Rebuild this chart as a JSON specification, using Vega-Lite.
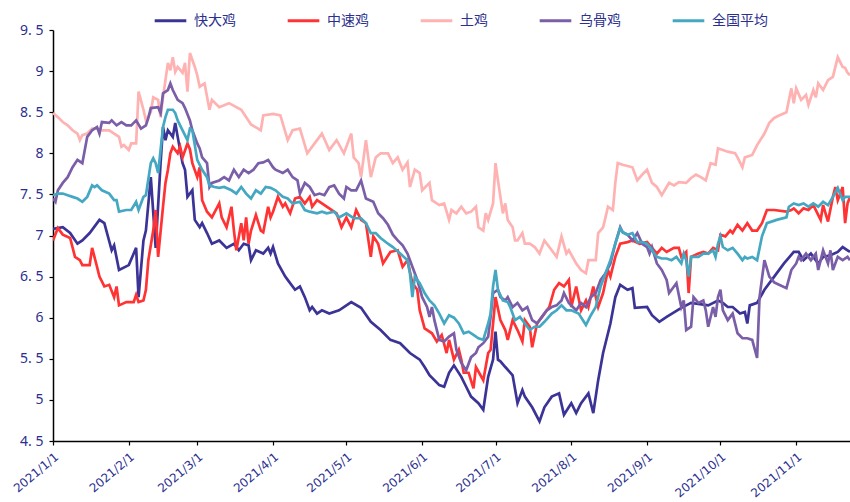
{
"$schema": "https://vega.github.io/schema/vega-lite/v6.json",
"width": 797, "height": 411,
"autosize": {"type": "none"},
"padding": {"left": 53, "top": 30, "right": 0, "bottom": 61},
"background": "white",
"config": {"view": {"stroke": null}, "font": "Noto Sans"},
"datasets": {
"k": [
{"d":"2021/01/01","v":7.08},{"d":"2021/01/05","v":7.10},{"d":"2021/01/08","v":7.03},{"d":"2021/01/11","v":6.90},{"d":"2021/01/13","v":6.94},{"d":"2021/01/16","v":7.03},{"d":"2021/01/20","v":7.19},{"d":"2021/01/22","v":7.15},{"d":"2021/01/25","v":6.82},{"d":"2021/01/26","v":6.88},{"d":"2021/01/28","v":6.58},{"d":"2021/02/01","v":6.64},{"d":"2021/02/04","v":6.85},{"d":"2021/02/05","v":6.25},{"d":"2021/02/07","v":6.94},{"d":"2021/02/08","v":7.06},{"d":"2021/02/10","v":7.71},{"d":"2021/02/12","v":6.85},{"d":"2021/02/14","v":7.88},{"d":"2021/02/15","v":8.32},{"d":"2021/02/16","v":8.16},{"d":"2021/02/17","v":8.28},{"d":"2021/02/19","v":8.20},{"d":"2021/02/20","v":8.37},{"d":"2021/02/21","v":8.20},{"d":"2021/02/23","v":7.88},{"d":"2021/02/24","v":7.80},{"d":"2021/02/25","v":7.47},{"d":"2021/02/27","v":7.55},{"d":"2021/02/28","v":7.19},{"d":"2021/03/02","v":7.10},{"d":"2021/03/03","v":7.15},{"d":"2021/03/05","v":7.03},{"d":"2021/03/07","v":6.90},{"d":"2021/03/10","v":6.94},{"d":"2021/03/13","v":6.85},{"d":"2021/03/16","v":6.90},{"d":"2021/03/18","v":6.82},{"d":"2021/03/20","v":6.90},{"d":"2021/03/22","v":6.88},{"d":"2021/03/23","v":6.70},{"d":"2021/03/25","v":6.82},{"d":"2021/03/28","v":6.78},{"d":"2021/03/30","v":6.85},{"d":"2021/03/31","v":6.78},{"d":"2021/04/01","v":6.86},{"d":"2021/04/03","v":6.66},{"d":"2021/04/06","v":6.50},{"d":"2021/04/07","v":6.46},{"d":"2021/04/10","v":6.34},{"d":"2021/04/12","v":6.38},{"d":"2021/04/14","v":6.25},{"d":"2021/04/16","v":6.09},{"d":"2021/04/17","v":6.13},{"d":"2021/04/19","v":6.05},{"d":"2021/04/21","v":6.09},{"d":"2021/04/24","v":6.05},{"d":"2021/04/28","v":6.09},{"d":"2021/05/03","v":6.19},{"d":"2021/05/07","v":6.12},{"d":"2021/05/11","v":5.95},{"d":"2021/05/15","v":5.85},{"d":"2021/05/19","v":5.73},{"d":"2021/05/23","v":5.69},{"d":"2021/05/27","v":5.57},{"d":"2021/05/31","v":5.49},{"d":"2021/06/02","v":5.40},{"d":"2021/06/04","v":5.30},{"d":"2021/06/08","v":5.18},{"d":"2021/06/10","v":5.16},{"d":"2021/06/12","v":5.33},{"d":"2021/06/14","v":5.42},{"d":"2021/06/17","v":5.28},{"d":"2021/06/19","v":5.16},{"d":"2021/06/21","v":5.04},{"d":"2021/06/24","v":4.96},{"d":"2021/06/26","v":4.88},{"d":"2021/06/28","v":5.28},{"d":"2021/06/30","v":5.49},{"d":"2021/07/01","v":5.83},{"d":"2021/07/02","v":5.49},{"d":"2021/07/03","v":5.47},{"d":"2021/07/05","v":5.40},{"d":"2021/07/08","v":5.30},{"d":"2021/07/10","v":4.96},{"d":"2021/07/12","v":5.12},{"d":"2021/07/13","v":5.04},{"d":"2021/07/16","v":4.91},{"d":"2021/07/19","v":4.74},{"d":"2021/07/21","v":4.91},{"d":"2021/07/24","v":5.04},{"d":"2021/07/27","v":5.08},{"d":"2021/07/29","v":4.82},{"d":"2021/08/01","v":4.96},{"d":"2021/08/03","v":4.84},{"d":"2021/08/05","v":4.96},{"d":"2021/08/08","v":5.08},{"d":"2021/08/10","v":4.84},{"d":"2021/08/12","v":5.24},{"d":"2021/08/14","v":5.57},{"d":"2021/08/17","v":5.93},{"d":"2021/08/19","v":6.25},{"d":"2021/08/21","v":6.40},{"d":"2021/08/24","v":6.34},{"d":"2021/08/26","v":6.36},{"d":"2021/08/27","v":6.12},{"d":"2021/09/01","v":6.13},{"d":"2021/09/03","v":6.03},{"d":"2021/09/06","v":5.95},{"d":"2021/09/09","v":6.01},{"d":"2021/09/15","v":6.12},{"d":"2021/09/19","v":6.18},{"d":"2021/09/26","v":6.15},{"d":"2021/09/30","v":6.21},{"d":"2021/10/02","v":6.18},{"d":"2021/10/04","v":6.13},{"d":"2021/10/06","v":6.13},{"d":"2021/10/09","v":6.05},{"d":"2021/10/11","v":6.07},{"d":"2021/10/12","v":5.93},{"d":"2021/10/13","v":6.15},{"d":"2021/10/16","v":6.18},{"d":"2021/10/19","v":6.34},{"d":"2021/10/23","v":6.50},{"d":"2021/10/27","v":6.66},{"d":"2021/10/31","v":6.80},{"d":"2021/11/02","v":6.80},{"d":"2021/11/04","v":6.70},{"d":"2021/11/07","v":6.78},{"d":"2021/11/10","v":6.66},{"d":"2021/11/12","v":6.74},{"d":"2021/11/15","v":6.76},{"d":"2021/11/18","v":6.80},{"d":"2021/11/20","v":6.86},{"d":"2021/11/22","v":6.82},{"d":"2021/11/23","v":6.80}
],
"z": [
{"d":"2021/01/01","v":6.94},{"d":"2021/01/03","v":7.09},{"d":"2021/01/05","v":7.01},{"d":"2021/01/08","v":6.97},{"d":"2021/01/10","v":6.74},{"d":"2021/01/12","v":6.70},{"d":"2021/01/13","v":6.64},{"d":"2021/01/16","v":6.64},{"d":"2021/01/17","v":6.85},{"d":"2021/01/19","v":6.62},{"d":"2021/01/20","v":6.50},{"d":"2021/01/22","v":6.38},{"d":"2021/01/24","v":6.40},{"d":"2021/01/26","v":6.25},{"d":"2021/01/27","v":6.38},{"d":"2021/01/28","v":6.15},{"d":"2021/01/31","v":6.19},{"d":"2021/02/03","v":6.19},{"d":"2021/02/04","v":6.28},{"d":"2021/02/05","v":6.19},{"d":"2021/02/07","v":6.21},{"d":"2021/02/08","v":6.34},{"d":"2021/02/09","v":6.70},{"d":"2021/02/11","v":7.06},{"d":"2021/02/12","v":7.31},{"d":"2021/02/13","v":6.74},{"d":"2021/02/15","v":7.35},{"d":"2021/02/16","v":7.64},{"d":"2021/02/17","v":7.80},{"d":"2021/02/18","v":8.00},{"d":"2021/02/19","v":8.08},{"d":"2021/02/21","v":8.00},{"d":"2021/02/22","v":8.08},{"d":"2021/02/23","v":7.95},{"d":"2021/02/25","v":8.12},{"d":"2021/02/26","v":8.05},{"d":"2021/02/27","v":7.88},{"d":"2021/03/01","v":7.71},{"d":"2021/03/02","v":7.83},{"d":"2021/03/03","v":7.43},{"d":"2021/03/05","v":7.29},{"d":"2021/03/07","v":7.22},{"d":"2021/03/10","v":7.39},{"d":"2021/03/11","v":7.22},{"d":"2021/03/13","v":7.10},{"d":"2021/03/15","v":7.35},{"d":"2021/03/16","v":7.06},{"d":"2021/03/17","v":6.82},{"d":"2021/03/19","v":7.15},{"d":"2021/03/20","v":6.94},{"d":"2021/03/21","v":7.22},{"d":"2021/03/22","v":6.90},{"d":"2021/03/23","v":7.06},{"d":"2021/03/25","v":7.25},{"d":"2021/03/27","v":7.06},{"d":"2021/03/28","v":7.04},{"d":"2021/03/30","v":7.35},{"d":"2021/03/31","v":7.22},{"d":"2021/04/01","v":7.29},{"d":"2021/04/03","v":7.47},{"d":"2021/04/05","v":7.35},{"d":"2021/04/06","v":7.39},{"d":"2021/04/08","v":7.27},{"d":"2021/04/10","v":7.45},{"d":"2021/04/12","v":7.47},{"d":"2021/04/14","v":7.39},{"d":"2021/04/16","v":7.47},{"d":"2021/04/17","v":7.35},{"d":"2021/04/19","v":7.43},{"d":"2021/04/21","v":7.39},{"d":"2021/04/24","v":7.33},{"d":"2021/04/27","v":7.27},{"d":"2021/04/29","v":7.10},{"d":"2021/05/01","v":7.22},{"d":"2021/05/03","v":7.10},{"d":"2021/05/05","v":7.31},{"d":"2021/05/07","v":7.19},{"d":"2021/05/09","v":7.15},{"d":"2021/05/11","v":6.74},{"d":"2021/05/12","v":6.99},{"d":"2021/05/14","v":6.90},{"d":"2021/05/16","v":6.66},{"d":"2021/05/19","v":6.80},{"d":"2021/05/22","v":6.82},{"d":"2021/05/24","v":6.62},{"d":"2021/05/26","v":6.70},{"d":"2021/05/28","v":6.42},{"d":"2021/05/30","v":6.34},{"d":"2021/05/31","v":6.09},{"d":"2021/06/02","v":5.87},{"d":"2021/06/05","v":5.81},{"d":"2021/06/07","v":5.71},{"d":"2021/06/09","v":5.79},{"d":"2021/06/11","v":5.57},{"d":"2021/06/12","v":5.73},{"d":"2021/06/14","v":5.49},{"d":"2021/06/16","v":5.61},{"d":"2021/06/17","v":5.49},{"d":"2021/06/18","v":5.33},{"d":"2021/06/20","v":5.33},{"d":"2021/06/22","v":5.14},{"d":"2021/06/23","v":5.40},{"d":"2021/06/26","v":5.24},{"d":"2021/06/28","v":5.57},{"d":"2021/06/29","v":5.61},{"d":"2021/07/01","v":6.25},{"d":"2021/07/03","v":5.97},{"d":"2021/07/05","v":5.85},{"d":"2021/07/06","v":5.73},{"d":"2021/07/08","v":5.97},{"d":"2021/07/10","v":5.85},{"d":"2021/07/12","v":5.71},{"d":"2021/07/13","v":5.97},{"d":"2021/07/15","v":5.89},{"d":"2021/07/16","v":5.64},{"d":"2021/07/18","v":5.93},{"d":"2021/07/20","v":6.01},{"d":"2021/07/23","v":6.13},{"d":"2021/07/25","v":6.34},{"d":"2021/07/27","v":6.42},{"d":"2021/07/29","v":6.38},{"d":"2021/07/31","v":6.46},{"d":"2021/08/01","v":6.13},{"d":"2021/08/03","v":6.38},{"d":"2021/08/05","v":6.09},{"d":"2021/08/07","v":6.21},{"d":"2021/08/08","v":6.13},{"d":"2021/08/10","v":6.38},{"d":"2021/08/12","v":6.13},{"d":"2021/08/14","v":6.30},{"d":"2021/08/16","v":6.58},{"d":"2021/08/17","v":6.50},{"d":"2021/08/19","v":6.74},{"d":"2021/08/21","v":6.90},{"d":"2021/08/24","v":6.92},{"d":"2021/08/26","v":6.94},{"d":"2021/08/29","v":6.90},{"d":"2021/09/01","v":6.92},{"d":"2021/09/03","v":6.85},{"d":"2021/09/05","v":6.78},{"d":"2021/09/07","v":6.85},{"d":"2021/09/09","v":6.80},{"d":"2021/09/12","v":6.85},{"d":"2021/09/14","v":6.85},{"d":"2021/09/15","v":6.74},{"d":"2021/09/17","v":6.80},{"d":"2021/09/18","v":6.30},{"d":"2021/09/19","v":6.74},{"d":"2021/09/22","v":6.78},{"d":"2021/09/24","v":6.80},{"d":"2021/09/26","v":6.78},{"d":"2021/09/28","v":6.85},{"d":"2021/09/30","v":6.82},{"d":"2021/10/01","v":7.01},{"d":"2021/10/03","v":6.99},{"d":"2021/10/05","v":7.06},{"d":"2021/10/06","v":7.03},{"d":"2021/10/08","v":7.13},{"d":"2021/10/10","v":7.06},{"d":"2021/10/12","v":7.15},{"d":"2021/10/14","v":7.06},{"d":"2021/10/16","v":7.06},{"d":"2021/10/18","v":7.15},{"d":"2021/10/20","v":7.31},{"d":"2021/10/23","v":7.31},{"d":"2021/10/28","v":7.29},{"d":"2021/10/30","v":7.31},{"d":"2021/10/31","v":7.33},{"d":"2021/11/02","v":7.27},{"d":"2021/11/04","v":7.33},{"d":"2021/11/06","v":7.31},{"d":"2021/11/08","v":7.37},{"d":"2021/11/11","v":7.19},{"d":"2021/11/12","v":7.37},{"d":"2021/11/14","v":7.17},{"d":"2021/11/16","v":7.47},{"d":"2021/11/17","v":7.59},{"d":"2021/11/18","v":7.43},{"d":"2021/11/20","v":7.59},{"d":"2021/11/21","v":7.15},{"d":"2021/11/22","v":7.39},{"d":"2021/11/23","v":7.47}
],
"t": [
{"d":"2021/01/01","v":8.49},{"d":"2021/01/03","v":8.44},{"d":"2021/01/05","v":8.38},{"d":"2021/01/07","v":8.34},{"d":"2021/01/09","v":8.28},{"d":"2021/01/11","v":8.24},{"d":"2021/01/12","v":8.16},{"d":"2021/01/13","v":8.22},{"d":"2021/01/15","v":8.24},{"d":"2021/01/17","v":8.30},{"d":"2021/01/19","v":8.30},{"d":"2021/01/21","v":8.28},{"d":"2021/01/24","v":8.28},{"d":"2021/01/26","v":8.24},{"d":"2021/01/28","v":8.20},{"d":"2021/01/29","v":8.08},{"d":"2021/01/30","v":8.10},{"d":"2021/02/01","v":8.04},{"d":"2021/02/02","v":8.12},{"d":"2021/02/04","v":8.12},{"d":"2021/02/05","v":8.75},{"d":"2021/02/07","v":8.53},{"d":"2021/02/08","v":8.40},{"d":"2021/02/10","v":8.50},{"d":"2021/02/11","v":8.68},{"d":"2021/02/13","v":8.65},{"d":"2021/02/14","v":8.44},{"d":"2021/02/15","v":8.68},{"d":"2021/02/17","v":9.10},{"d":"2021/02/18","v":9.01},{"d":"2021/02/19","v":9.17},{"d":"2021/02/20","v":8.99},{"d":"2021/02/21","v":9.05},{"d":"2021/02/23","v":8.98},{"d":"2021/02/24","v":9.10},{"d":"2021/02/25","v":8.75},{"d":"2021/02/26","v":9.22},{"d":"2021/02/28","v":9.05},{"d":"2021/03/01","v":8.95},{"d":"2021/03/02","v":8.81},{"d":"2021/03/04","v":8.85},{"d":"2021/03/06","v":8.53},{"d":"2021/03/07","v":8.65},{"d":"2021/03/10","v":8.56},{"d":"2021/03/14","v":8.61},{"d":"2021/03/19","v":8.53},{"d":"2021/03/23","v":8.35},{"d":"2021/03/27","v":8.28},{"d":"2021/03/28","v":8.46},{"d":"2021/04/01","v":8.48},{"d":"2021/04/04","v":8.46},{"d":"2021/04/07","v":8.16},{"d":"2021/04/09","v":8.28},{"d":"2021/04/12","v":8.30},{"d":"2021/04/15","v":8.00},{"d":"2021/04/19","v":8.16},{"d":"2021/04/21","v":8.24},{"d":"2021/04/24","v":8.04},{"d":"2021/04/27","v":8.16},{"d":"2021/04/30","v":8.00},{"d":"2021/05/03","v":8.24},{"d":"2021/05/04","v":7.95},{"d":"2021/05/06","v":7.88},{"d":"2021/05/07","v":7.71},{"d":"2021/05/09","v":8.16},{"d":"2021/05/11","v":7.71},{"d":"2021/05/13","v":7.95},{"d":"2021/05/15","v":8.00},{"d":"2021/05/18","v":8.00},{"d":"2021/05/20","v":7.88},{"d":"2021/05/22","v":7.95},{"d":"2021/05/24","v":7.80},{"d":"2021/05/26","v":7.89},{"d":"2021/05/27","v":7.59},{"d":"2021/05/29","v":7.80},{"d":"2021/05/31","v":7.76},{"d":"2021/06/01","v":7.55},{"d":"2021/06/04","v":7.64},{"d":"2021/06/05","v":7.43},{"d":"2021/06/08","v":7.37},{"d":"2021/06/10","v":7.39},{"d":"2021/06/12","v":7.19},{"d":"2021/06/13","v":7.31},{"d":"2021/06/15","v":7.27},{"d":"2021/06/17","v":7.35},{"d":"2021/06/19","v":7.27},{"d":"2021/06/21","v":7.29},{"d":"2021/06/23","v":7.35},{"d":"2021/06/24","v":7.10},{"d":"2021/06/26","v":7.06},{"d":"2021/06/27","v":7.27},{"d":"2021/06/28","v":7.19},{"d":"2021/06/30","v":7.39},{"d":"2021/07/01","v":7.88},{"d":"2021/07/02","v":7.67},{"d":"2021/07/04","v":7.27},{"d":"2021/07/05","v":7.39},{"d":"2021/07/06","v":7.19},{"d":"2021/07/08","v":7.10},{"d":"2021/07/09","v":6.94},{"d":"2021/07/10","v":6.94},{"d":"2021/07/12","v":7.03},{"d":"2021/07/13","v":6.90},{"d":"2021/07/15","v":6.90},{"d":"2021/07/17","v":6.86},{"d":"2021/07/19","v":6.78},{"d":"2021/07/21","v":6.94},{"d":"2021/07/24","v":6.82},{"d":"2021/07/26","v":6.74},{"d":"2021/07/28","v":6.99},{"d":"2021/07/30","v":6.78},{"d":"2021/07/31","v":6.82},{"d":"2021/08/03","v":6.66},{"d":"2021/08/05","v":6.58},{"d":"2021/08/07","v":6.54},{"d":"2021/08/08","v":6.70},{"d":"2021/08/11","v":6.70},{"d":"2021/08/12","v":7.03},{"d":"2021/08/14","v":7.10},{"d":"2021/08/15","v":7.22},{"d":"2021/08/16","v":7.35},{"d":"2021/08/18","v":7.31},{"d":"2021/08/19","v":7.64},{"d":"2021/08/20","v":7.88},{"d":"2021/08/22","v":7.86},{"d":"2021/08/26","v":7.83},{"d":"2021/08/28","v":7.67},{"d":"2021/08/30","v":7.74},{"d":"2021/09/01","v":7.80},{"d":"2021/09/03","v":7.64},{"d":"2021/09/05","v":7.59},{"d":"2021/09/07","v":7.49},{"d":"2021/09/10","v":7.64},{"d":"2021/09/12","v":7.61},{"d":"2021/09/14","v":7.65},{"d":"2021/09/17","v":7.64},{"d":"2021/09/19","v":7.70},{"d":"2021/09/21","v":7.74},{"d":"2021/09/23","v":7.71},{"d":"2021/09/25","v":7.67},{"d":"2021/09/27","v":7.88},{"d":"2021/09/29","v":7.86},{"d":"2021/09/30","v":8.06},{"d":"2021/10/02","v":8.04},{"d":"2021/10/04","v":8.02},{"d":"2021/10/07","v":8.00},{"d":"2021/10/08","v":7.95},{"d":"2021/10/10","v":7.83},{"d":"2021/10/11","v":7.95},{"d":"2021/10/14","v":7.98},{"d":"2021/10/16","v":8.10},{"d":"2021/10/19","v":8.24},{"d":"2021/10/21","v":8.37},{"d":"2021/10/23","v":8.43},{"d":"2021/10/25","v":8.46},{"d":"2021/10/28","v":8.50},{"d":"2021/10/30","v":8.79},{"d":"2021/10/31","v":8.61},{"d":"2021/11/01","v":8.79},{"d":"2021/11/03","v":8.65},{"d":"2021/11/05","v":8.71},{"d":"2021/11/06","v":8.59},{"d":"2021/11/08","v":8.77},{"d":"2021/11/09","v":8.68},{"d":"2021/11/10","v":8.85},{"d":"2021/11/12","v":8.77},{"d":"2021/11/14","v":8.89},{"d":"2021/11/16","v":8.93},{"d":"2021/11/18","v":9.17},{"d":"2021/11/20","v":9.05},{"d":"2021/11/21","v":9.04},{"d":"2021/11/22","v":8.98},{"d":"2021/11/23","v":8.95}
],
"w": [
{"d":"2021/01/01","v":7.45},{"d":"2021/01/02","v":7.41},{"d":"2021/01/03","v":7.55},{"d":"2021/01/05","v":7.64},{"d":"2021/01/07","v":7.71},{"d":"2021/01/09","v":7.83},{"d":"2021/01/11","v":7.92},{"d":"2021/01/13","v":7.88},{"d":"2021/01/14","v":8.04},{"d":"2021/01/15","v":8.20},{"d":"2021/01/17","v":8.28},{"d":"2021/01/19","v":8.32},{"d":"2021/01/20","v":8.24},{"d":"2021/01/21","v":8.38},{"d":"2021/01/24","v":8.37},{"d":"2021/01/25","v":8.40},{"d":"2021/01/27","v":8.34},{"d":"2021/01/29","v":8.38},{"d":"2021/01/31","v":8.34},{"d":"2021/02/02","v":8.34},{"d":"2021/02/04","v":8.40},{"d":"2021/02/06","v":8.30},{"d":"2021/02/08","v":8.34},{"d":"2021/02/09","v":8.43},{"d":"2021/02/10","v":8.55},{"d":"2021/02/13","v":8.56},{"d":"2021/02/14","v":8.49},{"d":"2021/02/15","v":8.73},{"d":"2021/02/17","v":8.77},{"d":"2021/02/18","v":8.85},{"d":"2021/02/19","v":8.77},{"d":"2021/02/21","v":8.65},{"d":"2021/02/23","v":8.61},{"d":"2021/02/24","v":8.55},{"d":"2021/02/26","v":8.40},{"d":"2021/02/27","v":8.28},{"d":"2021/03/01","v":8.12},{"d":"2021/03/02","v":8.06},{"d":"2021/03/03","v":7.95},{"d":"2021/03/05","v":7.88},{"d":"2021/03/06","v":7.59},{"d":"2021/03/07","v":7.64},{"d":"2021/03/10","v":7.67},{"d":"2021/03/12","v":7.71},{"d":"2021/03/14","v":7.67},{"d":"2021/03/16","v":7.80},{"d":"2021/03/18","v":7.71},{"d":"2021/03/20","v":7.80},{"d":"2021/03/22","v":7.76},{"d":"2021/03/24","v":7.80},{"d":"2021/03/26","v":7.88},{"d":"2021/03/28","v":7.89},{"d":"2021/03/30","v":7.92},{"d":"2021/04/01","v":7.83},{"d":"2021/04/02","v":7.80},{"d":"2021/04/05","v":7.76},{"d":"2021/04/07","v":7.80},{"d":"2021/04/09","v":7.71},{"d":"2021/04/11","v":7.67},{"d":"2021/04/12","v":7.51},{"d":"2021/04/14","v":7.64},{"d":"2021/04/16","v":7.59},{"d":"2021/04/18","v":7.49},{"d":"2021/04/20","v":7.51},{"d":"2021/04/22","v":7.49},{"d":"2021/04/24","v":7.59},{"d":"2021/04/26","v":7.61},{"d":"2021/04/28","v":7.51},{"d":"2021/04/30","v":7.45},{"d":"2021/05/01","v":7.59},{"d":"2021/05/03","v":7.55},{"d":"2021/05/05","v":7.55},{"d":"2021/05/07","v":7.67},{"d":"2021/05/09","v":7.45},{"d":"2021/05/12","v":7.41},{"d":"2021/05/14","v":7.27},{"d":"2021/05/16","v":7.21},{"d":"2021/05/18","v":7.13},{"d":"2021/05/20","v":7.01},{"d":"2021/05/22","v":6.94},{"d":"2021/05/24","v":6.88},{"d":"2021/05/26","v":6.78},{"d":"2021/05/28","v":6.62},{"d":"2021/05/30","v":6.46},{"d":"2021/06/01","v":6.25},{"d":"2021/06/03","v":6.13},{"d":"2021/06/04","v":6.01},{"d":"2021/06/05","v":6.13},{"d":"2021/06/06","v":5.97},{"d":"2021/06/08","v":5.73},{"d":"2021/06/10","v":5.71},{"d":"2021/06/12","v":5.77},{"d":"2021/06/14","v":5.81},{"d":"2021/06/15","v":5.61},{"d":"2021/06/17","v":5.45},{"d":"2021/06/19","v":5.36},{"d":"2021/06/21","v":5.52},{"d":"2021/06/23","v":5.57},{"d":"2021/06/24","v":5.64},{"d":"2021/06/26","v":5.69},{"d":"2021/06/28","v":5.77},{"d":"2021/06/29","v":6.01},{"d":"2021/06/30","v":6.30},{"d":"2021/07/02","v":6.34},{"d":"2021/07/03","v":6.25},{"d":"2021/07/05","v":6.21},{"d":"2021/07/06","v":6.25},{"d":"2021/07/08","v":6.13},{"d":"2021/07/10","v":6.18},{"d":"2021/07/12","v":6.09},{"d":"2021/07/14","v":6.13},{"d":"2021/07/16","v":5.97},{"d":"2021/07/18","v":5.93},{"d":"2021/07/20","v":6.01},{"d":"2021/07/22","v":6.09},{"d":"2021/07/24","v":6.13},{"d":"2021/07/26","v":6.15},{"d":"2021/07/28","v":6.21},{"d":"2021/07/29","v":6.30},{"d":"2021/07/31","v":6.18},{"d":"2021/08/03","v":6.09},{"d":"2021/08/05","v":6.18},{"d":"2021/08/07","v":6.13},{"d":"2021/08/09","v":6.25},{"d":"2021/08/11","v":6.30},{"d":"2021/08/13","v":6.46},{"d":"2021/08/15","v":6.54},{"d":"2021/08/17","v":6.66},{"d":"2021/08/19","v":6.90},{"d":"2021/08/21","v":7.10},{"d":"2021/08/22","v":7.04},{"d":"2021/08/24","v":7.01},{"d":"2021/08/26","v":6.94},{"d":"2021/08/28","v":7.03},{"d":"2021/08/30","v":6.90},{"d":"2021/09/01","v":6.86},{"d":"2021/09/02","v":6.78},{"d":"2021/09/03","v":6.86},{"d":"2021/09/05","v":6.66},{"d":"2021/09/07","v":6.58},{"d":"2021/09/09","v":6.46},{"d":"2021/09/10","v":6.30},{"d":"2021/09/12","v":6.38},{"d":"2021/09/13","v":6.42},{"d":"2021/09/15","v":6.13},{"d":"2021/09/16","v":6.21},{"d":"2021/09/17","v":5.85},{"d":"2021/09/19","v":5.89},{"d":"2021/09/20","v":6.25},{"d":"2021/09/22","v":6.18},{"d":"2021/09/24","v":6.21},{"d":"2021/09/25","v":6.09},{"d":"2021/09/26","v":5.89},{"d":"2021/09/28","v":6.13},{"d":"2021/09/29","v":6.01},{"d":"2021/09/30","v":6.25},{"d":"2021/10/01","v":6.34},{"d":"2021/10/02","v":6.09},{"d":"2021/10/04","v":5.97},{"d":"2021/10/06","v":6.05},{"d":"2021/10/08","v":5.81},{"d":"2021/10/10","v":5.75},{"d":"2021/10/12","v":5.75},{"d":"2021/10/14","v":5.73},{"d":"2021/10/16","v":5.51},{"d":"2021/10/17","v":6.25},{"d":"2021/10/19","v":6.70},{"d":"2021/10/21","v":6.50},{"d":"2021/10/23","v":6.43},{"d":"2021/10/25","v":6.40},{"d":"2021/10/28","v":6.36},{"d":"2021/10/30","v":6.58},{"d":"2021/11/01","v":6.66},{"d":"2021/11/02","v":6.74},{"d":"2021/11/03","v":6.70},{"d":"2021/11/05","v":6.78},{"d":"2021/11/07","v":6.70},{"d":"2021/11/09","v":6.78},{"d":"2021/11/10","v":6.58},{"d":"2021/11/12","v":6.82},{"d":"2021/11/14","v":6.66},{"d":"2021/11/15","v":6.82},{"d":"2021/11/16","v":6.58},{"d":"2021/11/18","v":6.74},{"d":"2021/11/20","v":6.70},{"d":"2021/11/22","v":6.74},{"d":"2021/11/23","v":6.70}
],
"q": [
{"d":"2021/01/01","v":7.49},{"d":"2021/01/03","v":7.51},{"d":"2021/01/05","v":7.51},{"d":"2021/01/07","v":7.49},{"d":"2021/01/09","v":7.47},{"d":"2021/01/11","v":7.45},{"d":"2021/01/13","v":7.41},{"d":"2021/01/15","v":7.47},{"d":"2021/01/17","v":7.61},{"d":"2021/01/18","v":7.59},{"d":"2021/01/19","v":7.61},{"d":"2021/01/21","v":7.55},{"d":"2021/01/24","v":7.51},{"d":"2021/01/26","v":7.43},{"d":"2021/01/27","v":7.43},{"d":"2021/01/28","v":7.29},{"d":"2021/01/31","v":7.31},{"d":"2021/02/02","v":7.31},{"d":"2021/02/04","v":7.41},{"d":"2021/02/05","v":7.31},{"d":"2021/02/07","v":7.47},{"d":"2021/02/08","v":7.49},{"d":"2021/02/10","v":7.88},{"d":"2021/02/11","v":7.94},{"d":"2021/02/12","v":7.88},{"d":"2021/02/13","v":7.76},{"d":"2021/02/15","v":8.32},{"d":"2021/02/16","v":8.44},{"d":"2021/02/17","v":8.53},{"d":"2021/02/19","v":8.53},{"d":"2021/02/20","v":8.49},{"d":"2021/02/21","v":8.40},{"d":"2021/02/23","v":8.28},{"d":"2021/02/25","v":8.16},{"d":"2021/02/26","v":8.30},{"d":"2021/02/27","v":8.28},{"d":"2021/03/01","v":7.92},{"d":"2021/03/03","v":7.80},{"d":"2021/03/05","v":7.71},{"d":"2021/03/06","v":7.61},{"d":"2021/03/08","v":7.59},{"d":"2021/03/10","v":7.58},{"d":"2021/03/12","v":7.59},{"d":"2021/03/15","v":7.55},{"d":"2021/03/17","v":7.51},{"d":"2021/03/19","v":7.59},{"d":"2021/03/21","v":7.51},{"d":"2021/03/23","v":7.45},{"d":"2021/03/25","v":7.55},{"d":"2021/03/27","v":7.51},{"d":"2021/03/29","v":7.59},{"d":"2021/03/31","v":7.58},{"d":"2021/04/02","v":7.55},{"d":"2021/04/05","v":7.47},{"d":"2021/04/07","v":7.45},{"d":"2021/04/09","v":7.39},{"d":"2021/04/12","v":7.41},{"d":"2021/04/14","v":7.31},{"d":"2021/04/16","v":7.29},{"d":"2021/04/19","v":7.27},{"d":"2021/04/21","v":7.29},{"d":"2021/04/23","v":7.27},{"d":"2021/04/26","v":7.29},{"d":"2021/04/28","v":7.22},{"d":"2021/05/01","v":7.27},{"d":"2021/05/04","v":7.21},{"d":"2021/05/07","v":7.21},{"d":"2021/05/09","v":7.15},{"d":"2021/05/11","v":7.03},{"d":"2021/05/13","v":7.03},{"d":"2021/05/15","v":6.97},{"d":"2021/05/18","v":6.90},{"d":"2021/05/20","v":6.86},{"d":"2021/05/23","v":6.78},{"d":"2021/05/26","v":6.70},{"d":"2021/05/27","v":6.54},{"d":"2021/05/28","v":6.25},{"d":"2021/05/29","v":6.50},{"d":"2021/05/31","v":6.42},{"d":"2021/06/02","v":6.30},{"d":"2021/06/04","v":6.21},{"d":"2021/06/06","v":6.15},{"d":"2021/06/08","v":6.05},{"d":"2021/06/10","v":5.93},{"d":"2021/06/12","v":6.03},{"d":"2021/06/14","v":6.00},{"d":"2021/06/16","v":5.93},{"d":"2021/06/18","v":5.81},{"d":"2021/06/20","v":5.83},{"d":"2021/06/22","v":5.79},{"d":"2021/06/24","v":5.75},{"d":"2021/06/26","v":5.73},{"d":"2021/06/28","v":5.93},{"d":"2021/06/29","v":6.05},{"d":"2021/06/30","v":6.38},{"d":"2021/07/01","v":6.58},{"d":"2021/07/02","v":6.34},{"d":"2021/07/04","v":6.21},{"d":"2021/07/06","v":6.19},{"d":"2021/07/07","v":6.13},{"d":"2021/07/09","v":5.97},{"d":"2021/07/11","v":6.01},{"d":"2021/07/13","v":5.93},{"d":"2021/07/15","v":5.85},{"d":"2021/07/17","v":5.89},{"d":"2021/07/19","v":5.89},{"d":"2021/07/21","v":5.95},{"d":"2021/07/24","v":6.05},{"d":"2021/07/26","v":6.09},{"d":"2021/07/28","v":6.15},{"d":"2021/07/30","v":6.09},{"d":"2021/08/01","v":6.09},{"d":"2021/08/04","v":6.05},{"d":"2021/08/07","v":5.91},{"d":"2021/08/09","v":6.03},{"d":"2021/08/11","v":6.13},{"d":"2021/08/13","v":6.38},{"d":"2021/08/15","v":6.54},{"d":"2021/08/17","v":6.70},{"d":"2021/08/19","v":6.90},{"d":"2021/08/21","v":7.09},{"d":"2021/08/22","v":7.04},{"d":"2021/08/24","v":7.01},{"d":"2021/08/26","v":7.03},{"d":"2021/08/28","v":6.92},{"d":"2021/08/30","v":6.92},{"d":"2021/09/01","v":6.90},{"d":"2021/09/03","v":6.82},{"d":"2021/09/05","v":6.74},{"d":"2021/09/07","v":6.72},{"d":"2021/09/09","v":6.72},{"d":"2021/09/11","v":6.70},{"d":"2021/09/13","v":6.74},{"d":"2021/09/15","v":6.66},{"d":"2021/09/16","v":6.78},{"d":"2021/09/17","v":6.70},{"d":"2021/09/18","v":6.50},{"d":"2021/09/19","v":6.74},{"d":"2021/09/22","v":6.74},{"d":"2021/09/24","v":6.78},{"d":"2021/09/26","v":6.78},{"d":"2021/09/28","v":6.82},{"d":"2021/09/29","v":6.74},{"d":"2021/09/30","v":6.90},{"d":"2021/10/01","v":6.99},{"d":"2021/10/02","v":6.86},{"d":"2021/10/04","v":6.82},{"d":"2021/10/06","v":6.85},{"d":"2021/10/08","v":6.78},{"d":"2021/10/10","v":6.70},{"d":"2021/10/11","v":6.74},{"d":"2021/10/12","v":6.72},{"d":"2021/10/14","v":6.74},{"d":"2021/10/16","v":6.70},{"d":"2021/10/18","v":6.99},{"d":"2021/10/20","v":7.15},{"d":"2021/10/24","v":7.19},{"d":"2021/10/28","v":7.22},{"d":"2021/10/29","v":7.35},{"d":"2021/10/31","v":7.39},{"d":"2021/11/02","v":7.37},{"d":"2021/11/04","v":7.39},{"d":"2021/11/06","v":7.35},{"d":"2021/11/08","v":7.39},{"d":"2021/11/10","v":7.35},{"d":"2021/11/12","v":7.41},{"d":"2021/11/14","v":7.37},{"d":"2021/11/16","v":7.47},{"d":"2021/11/18","v":7.58},{"d":"2021/11/20","v":7.43},{"d":"2021/11/21","v":7.47},{"d":"2021/11/22","v":7.47},{"d":"2021/11/23","v":7.47}
]
},
"encoding": {
"x": {"field": "d", "type": "temporal",
"scale": {"domain": [{"year": 2021, "month": 1, "date": 1}, {"year": 2021, "month": 11, "date": 23}]},
"axis": {"title": null, "grid": false, "tickCount": {"interval": "month", "step": 1},
"labelExpr": "timeFormat(datum.value, '%Y/%-m/%-d')",
"labelAngle": -40, "labelFontSize": 12, "labelColor": "#2b2f8f", "labelFont": "DejaVu Sans",
"labelPadding": 6, "labelOverlap": false, "labelFlush": false,
"domainColor": "#000000", "domainWidth": 1.5, "tickColor": "#000000", "tickWidth": 1.2, "tickSize": 4}},
"y": {"field": "v", "type": "quantitative",
"scale": {"domain": [4.5, 9.5], "nice": false, "zero": false},
"axis": {"title": null, "grid": false, "values": [4.5, 5, 5.5, 6, 6.5, 7, 7.5, 8, 8.5, 9, 9.5],
"labelExpr": "replace(format(datum.value, '.1~f'), '.', '. ')",
"labelFontSize": 14, "labelColor": "#2b2f8f", "labelFont": "Noto Sans", "labelPadding": 6,
"domainColor": "#000000", "domainWidth": 1.5, "tickColor": "#000000", "tickWidth": 1.2, "tickSize": 4}}
},
"layer": [
{"data": {"name": "k"}, "mark": {"type": "line", "strokeWidth": 2.7, "clip": true},
"encoding": {"color": {"datum": "快大鸡", "type": "nominal",
"scale": {"domain": ["快大鸡", "中速鸡", "土鸡", "乌骨鸡", "全国平均"], "range": ["#3b3496", "#ff3333", "#ffb2b2", "#7a5fa8", "#45a8c2"]},
"legend": {"title": null, "orient": "none", "legendX": 100, "legendY": -27, "direction": "horizontal",
"symbolType": "stroke", "symbolSize": 1000, "symbolStrokeWidth": 3,
"labelFont": "Noto Sans CJK SC", "labelFontSize": 14, "labelColor": "#2b2f8f", "labelOffset": 6, "columnPadding": 45}}}},
{"data": {"name": "z"}, "mark": {"type": "line", "strokeWidth": 2.7, "clip": true}, "encoding": {"color": {"datum": "中速鸡", "type": "nominal"}}},
{"data": {"name": "t"}, "mark": {"type": "line", "strokeWidth": 2.7, "clip": true}, "encoding": {"color": {"datum": "土鸡", "type": "nominal"}}},
{"data": {"name": "w"}, "mark": {"type": "line", "strokeWidth": 2.7, "clip": true}, "encoding": {"color": {"datum": "乌骨鸡", "type": "nominal"}}},
{"data": {"name": "q"}, "mark": {"type": "line", "strokeWidth": 2.7, "clip": true}, "encoding": {"color": {"datum": "全国平均", "type": "nominal"}}}
]
}
